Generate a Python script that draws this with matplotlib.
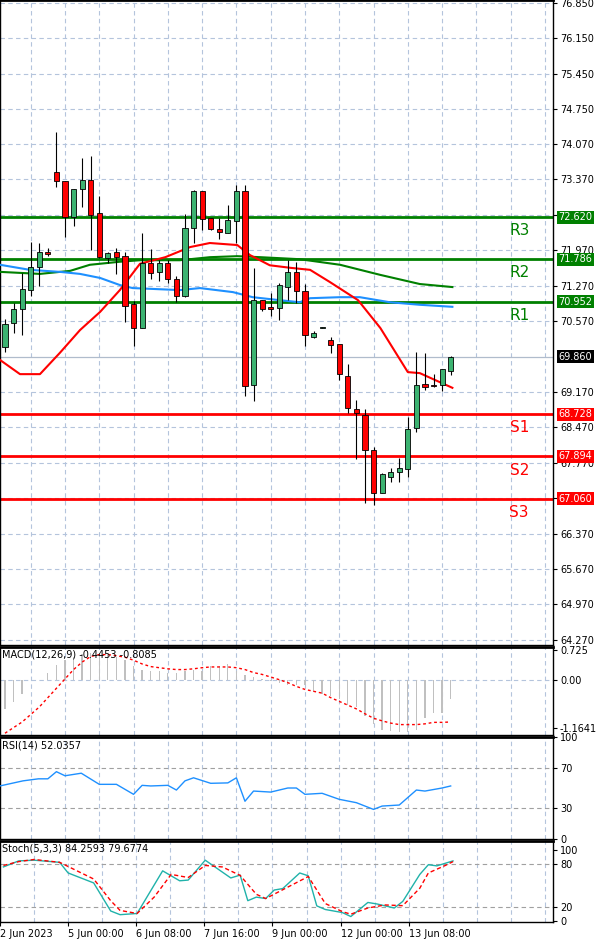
import matplotlib
matplotlib.use("Agg")
import matplotlib.pyplot as plt
import numpy as np

# H4 candles (open, high, low, close)
opens = [70.06, 70.53, 70.81, 71.18, 71.64, 71.93, 73.51, 73.33, 72.62, 73.18,
         73.36, 72.70, 71.81, 71.93, 71.85, 70.91, 70.43, 71.71, 71.54, 71.71,
         71.40, 71.06, 72.41, 73.14, 72.60, 72.39, 72.31, 72.54, 73.14, 69.31,
         70.98, 70.85, 70.83, 71.24, 71.54, 71.16, 70.25, 70.44, 70.19, 70.12,
         69.48, 68.83, 68.71, 68.02, 67.17, 67.49, 67.59, 67.65, 68.46, 69.33,
         69.30, 69.31, 69.58]
highs = [70.61, 70.93, 71.52, 72.13, 72.11, 72.01, 74.30, 73.33, 73.18, 73.79,
         73.83, 73.04, 71.93, 72.01, 71.93, 70.96, 72.31, 71.99, 71.77, 71.77,
         71.46, 72.68, 73.16, 73.14, 72.60, 72.60, 72.86, 73.26, 73.26, 71.62,
         70.98, 71.12, 71.32, 71.77, 71.74, 71.30, 70.37, 70.46, 70.25, 70.12,
         69.72, 69.01, 68.83, 68.08, 67.57, 67.67, 67.86, 68.67, 69.96, 69.94,
         69.52, 69.62, 69.88]
lows = [69.96, 70.33, 70.29, 71.06, 71.26, 71.85, 73.22, 72.23, 72.45, 72.82,
        71.97, 71.81, 71.71, 71.50, 70.55, 70.08, 70.43, 71.40, 71.36, 71.32,
        70.95, 71.04, 72.11, 72.37, 72.37, 72.19, 72.30, 72.11, 69.09, 68.99,
        70.77, 70.67, 70.59, 70.98, 70.93, 70.08, 70.23, 70.43, 69.94, 69.40,
        68.75, 67.84, 66.97, 66.93, 67.17, 67.39, 67.39, 67.49, 68.38, 69.21,
        69.27, 69.19, 69.50]
closes = [70.51, 70.81, 71.20, 71.64, 71.93, 71.89, 73.33, 72.62, 73.18, 73.36,
          72.66, 71.83, 71.91, 71.83, 70.87, 70.43, 71.71, 71.52, 71.71, 71.40,
          71.06, 72.41, 73.14, 72.58, 72.39, 72.33, 72.56, 73.14, 69.29, 70.98,
          70.81, 70.81, 71.28, 71.54, 71.16, 70.29, 70.33, 70.45, 70.10, 69.52,
          68.85, 68.75, 68.02, 67.17, 67.55, 67.59, 67.67, 68.44, 69.31, 69.27,
          69.29, 69.62, 69.86]

# moving averages read at bar positions
red_ma_x = [-0.58, 1.75, 4.08, 6.4, 8.75, 11.1, 13.4, 15.75, 18.7, 21.6, 23.9, 27.1,
            28.6, 30.9, 33.3, 35.6, 37.9, 41.2, 43.8, 47.0, 48.4, 52.2]
red_ma_y = [69.80, 69.52, 69.52, 69.94, 70.39, 70.75, 71.18, 71.70, 71.83, 72.03, 72.11, 72.07,
            71.87, 71.67, 71.62, 71.58, 71.34, 70.98, 70.43, 69.56, 69.54, 69.25]
green_ma_x = [-0.58, 1.75, 4.08, 7.6, 9.9, 13.4, 15.75, 20.4, 23.9, 27.1, 29.8, 34.4,
              39.1, 43.8, 48.4, 52.2]
green_ma_y = [71.54, 71.52, 71.50, 71.56, 71.68, 71.74, 71.77, 71.77, 71.83, 71.85, 71.83, 71.79,
              71.68, 71.48, 71.30, 71.24]
blue_ma_x = [-0.58, 2.9, 6.4, 8.75, 11.1, 13.4, 14.9, 20.4, 22.75, 26.6, 28.9, 32.1, 34.4,
             35.6, 39.1, 41.4, 44.9, 48.4, 52.2]
blue_ma_y = [71.68, 71.58, 71.54, 71.50, 71.42, 71.28, 71.22, 71.18, 71.22, 71.14, 71.04, 70.98,
             70.94, 71.02, 71.04, 71.04, 70.94, 70.89, 70.85]

res_levels = [72.620, 71.786, 70.952]
res_names = ["R3", "R2", "R1"]
sup_levels = [68.728, 67.894, 67.060]
sup_names = ["S1", "S2", "S3"]
last_price = 69.860

price_ticks = [76.85, 76.15, 75.45, 74.75, 74.07, 73.37, 72.67, 71.97, 71.27, 70.57,
               69.17, 68.47, 67.77, 67.07, 66.37, 65.67, 64.97, 64.27]
price_labels = ["76.850", "76.150", "75.450", "74.750", "74.070", "73.370", "", "71.970",
                "71.270", "70.570", "69.170", "68.470", "67.770", "67.070", "66.370",
                "65.670", "64.970", "64.270"]

macd_hist = [-0.70, -0.52, -0.34, 0.0, 0.0, 0.16, 0.37, 0.48, 0.57, 0.62,
             0.66, 0.66, 0.62, 0.57, 0.48, 0.34, 0.25, 0.21, 0.21, 0.16,
             0.16, 0.21, 0.25, 0.21, 0.34, 0.34, 0.39, 0.21, 0.12, 0.07,
             0.03, -0.02, -0.06, -0.11, -0.11, -0.11, -0.29, -0.34, -0.38, -0.47,
             -0.61, -0.65, -0.88, -1.06, -1.20, -1.24, -1.26, -1.26, -1.20, -0.92,
             -0.79, -0.79, -0.45]
macd_sig_zy = [265, 250, 235, 215, 195, 170, 145, 120, 95, 75, 60, 55, 55, 58, 62, 70,
               80, 87, 90, 93, 95, 95, 93, 90, 88, 88, 88, 90, 95, 103, 108, 115, 122,
               130, 140, 148, 153, 158, 170, 180, 190, 200, 213, 225, 232, 238, 242,
               242, 242, 240, 236, 236, 235]
macd_signal = [round((123 - z) * 0.009063, 3) for z in macd_sig_zy]

rsi_x = [-0.6, 2.1, 3.9, 5, 6, 7, 8.9, 11, 13, 15, 16, 17, 19, 20, 21, 22, 24, 26, 27,
         28, 29, 31, 33, 34, 35, 37, 39, 41, 43, 44, 46, 48, 49, 51, 52]
rsi_y = [52, 57, 59, 59, 66, 62, 64.5, 53.6, 53.6, 43.8, 52.6, 52, 52.6, 48, 57, 60, 54.6,
         55, 60, 37, 47, 46, 50, 50, 43.8, 44.8, 38.9, 35.6, 29, 32.3, 33.3, 48, 47, 50, 52]

stk_main_x = [-0.6, 1.2, 3.0, 6.0, 7.0, 10.0, 12.0, 13.1, 15.1, 18.1, 20.1, 21.1, 23.1,
              26.1, 27.2, 28.1, 29.1, 30.2, 31.2, 32.2, 34.2, 35.2, 36.2, 37.2, 39.2,
              40.2, 42.2, 43.3, 45.3, 46.3, 48.3, 49.3, 50.3, 52.2]
stk_main_y = [76.5, 85, 86, 83, 68, 54, 14.5, 9.3, 11, 71, 57, 58, 86, 61, 65, 29, 34, 32,
              44, 46, 68, 64, 21.7, 16.6, 12.3, 6.7, 26.5, 24.3, 18.7, 28, 66, 79.6, 78, 85]
stk_sig_x = [-0.6, 1.2, 3.0, 6.0, 10.0, 12.0, 13.1, 15.1, 17.1, 19.1, 21.1, 23.1, 25.1,
             27.2, 29.1, 30.2, 32.2, 35.2, 37.2, 39.2, 40.2, 42.2, 44.2, 46.3, 48.3, 49.3,
             51.3, 52.2]
stk_sig_y = [78.6, 84, 87, 83, 59.5, 29, 15.3, 11, 34, 66, 61.6, 78.6, 76.5, 64.6, 38, 32,
             44.4, 63, 25, 13.6, 10, 18.7, 23, 22, 46.6, 68, 78.6, 84]

date_pos = [-1, 7, 15, 23, 31, 39, 47]
date_labels = ["2 Jun 2023", "5 Jun 00:00", "6 Jun 08:00", "7 Jun 16:00",
               "9 Jun 00:00", "12 Jun 00:00", "13 Jun 08:00"]

GREEN = "#008000"
RED = "#ff0000"
GRID = "#b4c4dc"
XLIM = (-0.583, 63.94)
W = 553 / 600

fig = plt.figure(figsize=(6, 9.43), dpi=100)
ax = fig.add_axes([0, 1 - 645 / 943, W, 645 / 943])
ax_macd = fig.add_axes([0, 1 - 735 / 943, W, 88 / 943])
ax_rsi = fig.add_axes([0, 1 - 839 / 943, W, 102 / 943])
ax_stk = fig.add_axes([0, 1 - 922 / 943, W, 81 / 943])

grid_x = np.arange(3, 64, 4)
for a in (ax, ax_macd, ax_rsi, ax_stk):
    a.set_xlim(*XLIM)
    a.set_xticks([])
    for gx in grid_x:
        a.axvline(gx, color=GRID, lw=0.8, ls=(0, (4, 3)), zorder=0)
    a.yaxis.tick_right()
    a.tick_params(axis="y", labelsize=7, length=3, pad=2)
    for s in a.spines.values():
        s.set_color("black")
        s.set_linewidth(1.0)
    a.spines["top"].set_linewidth(2)

# main price panel
ax.set_ylim(64.17, 76.91)
ax.set_yticks(price_ticks)
ax.set_yticklabels(price_labels)
for t in price_ticks:
    ax.axhline(t, color=GRID, lw=0.8, ls=(0, (4, 3)), zorder=0)
ax.axhline(last_price, color="#b0bccc", lw=0.9, zorder=1)

for lv in res_levels:
    ax.axhline(lv, color=GREEN, lw=2, zorder=2)
for lv in sup_levels:
    ax.axhline(lv, color=RED, lw=2, zorder=2)

ax.plot(green_ma_x, green_ma_y, color=GREEN, lw=1.5, zorder=3)
ax.plot(blue_ma_x, blue_ma_y, color="#1e90ff", lw=1.5, zorder=3)
ax.plot(red_ma_x, red_ma_y, color=RED, lw=1.5, zorder=3)

idx = np.arange(len(opens))
o = np.array(opens)
c = np.array(closes)
up = c >= o
ax.vlines(idx, lows, highs, color="black", lw=0.8, zorder=4)
ax.bar(idx, c - o, bottom=o, width=0.6,
       color=np.where(up, "#3cb371", RED), edgecolor="black", lw=0.6, zorder=5)

for lv, nm in zip(res_levels, res_names):
    ax.text(60, lv - 0.12, nm, color=GREEN, fontsize=11, ha="center", va="top")
    ax.text(1.01, lv, f"{lv:.3f}", transform=ax.get_yaxis_transform(), color="white",
            fontsize=7, va="center", ha="left",
            bbox=dict(boxstyle="square,pad=0.15", fc=GREEN, ec="none"))
for lv, nm in zip(sup_levels, sup_names):
    ax.text(60, lv - 0.12, nm, color=RED, fontsize=11, ha="center", va="top")
    ax.text(1.01, lv, f"{lv:.3f}", transform=ax.get_yaxis_transform(), color="white",
            fontsize=7, va="center", ha="left",
            bbox=dict(boxstyle="square,pad=0.15", fc=RED, ec="none"))
ax.text(1.01, last_price, f"{last_price:.3f}", transform=ax.get_yaxis_transform(),
        color="white", fontsize=7, va="center", ha="left",
        bbox=dict(boxstyle="square,pad=0.15", fc="black", ec="none"))

# MACD
ax_macd.set_ylim(-1.33, 0.80)
ax_macd.set_yticks([0.725, 0.0, -1.1641])
ax_macd.set_yticklabels(["0.725", "0.00", "-1.1641"])
ax_macd.axhline(0, color=GRID, lw=0.8, ls=(0, (4, 3)), zorder=0)
ax_macd.bar(idx, macd_hist, width=0.15, color="#c0c0c0", zorder=2)
ax_macd.plot(idx, macd_signal, color=RED, lw=1, ls=(0, (2, 2)), zorder=3)
ax_macd.text(0.003, 0.97, "MACD(12,26,9) -0.4453 -0.8085", transform=ax_macd.transAxes,
             fontsize=7, va="top", ha="left")

# RSI
ax_rsi.set_ylim(0, 100)
ax_rsi.set_yticks([100, 70, 30, 0])
ax_rsi.set_yticklabels(["100", "70", "30", "0"])
for t in (70, 30):
    ax_rsi.axhline(t, color="#a0a0a0", lw=0.8, ls=(0, (4, 3)), zorder=0)
ax_rsi.plot(rsi_x, rsi_y, color="#1e90ff", lw=1, zorder=3)
ax_rsi.text(0.003, 0.97, "RSI(14) 52.0357", transform=ax_rsi.transAxes,
            fontsize=7, va="top", ha="left")

# Stochastic
ax_stk.set_ylim(-1, 113)
ax_stk.set_yticks([100, 80, 20, 0])
ax_stk.set_yticklabels(["100", "80", "20", "0"])
for t in (80, 20):
    ax_stk.axhline(t, color="#a0a0a0", lw=0.8, ls=(0, (4, 3)), zorder=0)
ax_stk.plot(stk_main_x, stk_main_y, color="#20b2aa", lw=1, zorder=3)
ax_stk.plot(stk_sig_x, stk_sig_y, color=RED, lw=1, ls=(0, (3, 2)), zorder=3)
ax_stk.text(0.003, 0.97, "Stoch(5,3,3) 84.2593 79.6774", transform=ax_stk.transAxes,
            fontsize=7, va="top", ha="left")

ax_stk.set_xticks(date_pos)
ax_stk.set_xticklabels(date_labels, ha="left", fontsize=7)
ax_stk.tick_params(axis="x", length=3, pad=2)

fig.savefig("out.png", dpi=100)
